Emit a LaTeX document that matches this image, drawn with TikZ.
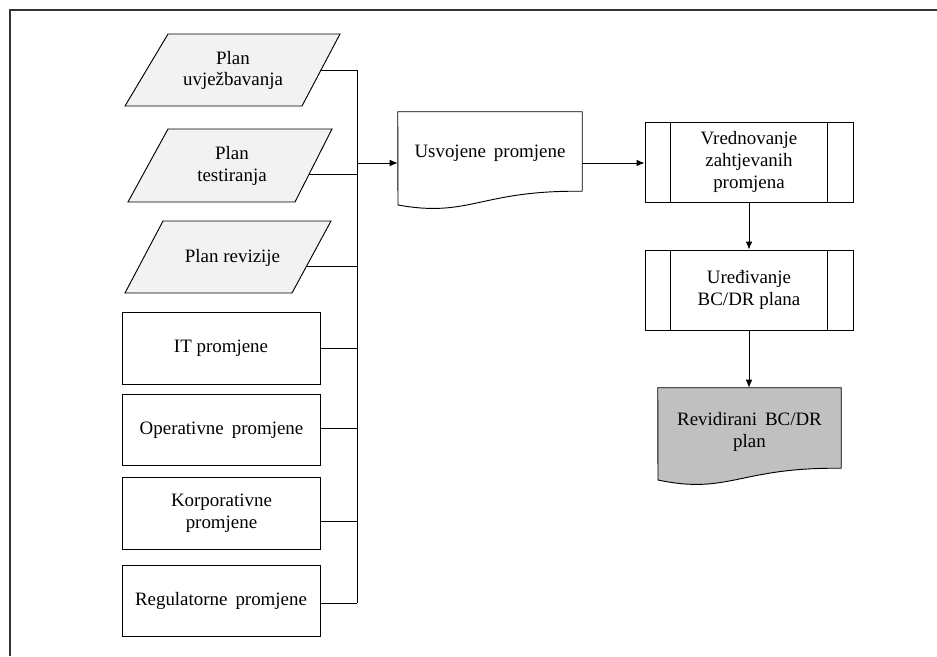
\documentclass[tikz,border=0pt]{standalone}
\usepackage{fontspec}
\setmainfont{Liberation Serif}
\usetikzlibrary{arrows.meta}
\definecolor{pfill}{RGB}{242,242,242}
\definecolor{dfill}{RGB}{192,192,192}
\newcommand\wsp{\hspace{0.42em}}
\begin{document}
\begin{tikzpicture}[x=0.75pt,y=-0.75pt,
  font=\fontsize{14.2}{16.3}\selectfont,
  shp/.style={draw, line width=0.7pt},
  txt/.style={align=center, inner sep=0pt},
  box/.style={draw, line width=0.7pt, minimum width=148.5pt, minimum height=53.5pt, align=center, inner sep=0pt},
  proc/.style={draw, line width=0.7pt, minimum width=156pt, minimum height=60pt, align=center, inner sep=0pt},
  link/.style={line width=0.7pt},
  arr/.style={line width=0.7pt, -{Latex[length=6pt,width=5pt]}}]
\useasboundingbox (0,0) rectangle (937,656);
% frame
\draw[line width=1.5pt, black!80] (10,656) -- (10,10) -- (937,10);

% parallelograms
\draw[shp, fill=pfill] (125,106) -- (168,34) -- (340,34) -- (302,106) -- cycle;
\node[txt] (p1) at (233,70.5) {Plan\\uvježbavanja};
\coordinate (p1r) at (321,70);
\draw[shp, fill=pfill] (128,202) -- (168,129) -- (332,129) -- (295,202) -- cycle;
\node[txt] (p2) at (232,166) {Plan\\testiranja};
\coordinate (p2r) at (309,174);
\draw[shp, fill=pfill] (125,293) -- (163,221) -- (331,221) -- (292,293) -- cycle;
\node[txt] (p3) at (232.5,258) {Plan revizije};
\coordinate (p3r) at (307,266);

% rectangles
\node[box] (it) at (221,348.5) {IT promjene};
\node[box] (op) at (221.5,430) {Operativne\wsp promjene};
\node[box] (ko) at (221.5,513.5) {Korporativne\\promjene};
\node[box] (re) at (221,601) {Regulatorne\wsp promjene};

% bus
\coordinate (b1) at (357,70);
\coordinate (b2) at (357,174);
\coordinate (b3) at (357,266);
\coordinate (b4) at (357,348);
\coordinate (b5) at (357,428);
\coordinate (b6) at (357,521);
\coordinate (b7) at (357,603);
\coordinate (ba) at (357,163);
\draw[link] (b1) -- (b7);
\draw[link] (p1r) -- (b1);
\draw[link] (p2r) -- (b2);
\draw[link] (p3r) -- (b3);
\draw[link] (b4 -| it.east) -- (b4);
\draw[link] (b5 -| op.east) -- (b5);
\draw[link] (b6 -| ko.east) -- (b6);
\draw[link] (b7 -| re.east) -- (b7);

% document: Usvojene promjene
\node[minimum width=138pt, minimum height=59.25pt, inner sep=0pt] (us) at (490,151.5) {};
\draw[shp] (us.south east) -- (us.north east) -- (us.north west) -- (398,205)
  .. controls (470,218) and (480,190) .. (us.south east);
\node[txt] (ust) at (490,153) {Usvojene\wsp promjene};

% processes
\node[proc] (vr) at (749,162) {Vrednovanje\\zahtjevanih\\promjena};
\draw[link] ([xshift=19.5pt]vr.north west) -- ([xshift=19.5pt]vr.south west);
\draw[link] ([xshift=-19.5pt]vr.north east) -- ([xshift=-19.5pt]vr.south east);
\node[proc] (ur) at (749,290) {Uređivanje\\BC/DR plana};
\draw[link] ([xshift=19.5pt]ur.north west) -- ([xshift=19.5pt]ur.south west);
\draw[link] ([xshift=-19.5pt]ur.north east) -- ([xshift=-19.5pt]ur.south east);

% document: Revidirani
\node[minimum width=137.25pt, minimum height=60pt, inner sep=0pt] (rv) at (749.5,428) {};
\draw[shp, fill=dfill] (rv.south east) -- (rv.north east) -- (rv.north west) -- (658,480)
  .. controls (729,495) and (739,467) .. (rv.south east);
\node[txt] (rvt) at (749.5,432) {Revidirani\wsp BC/DR\\plan};

% arrows
\draw[arr] (ba) -- (ba -| us.west);
\draw[arr] (ba -| us.east) -- (ba -| vr.west);
\draw[arr] (vr.south) -- (ur.north);
\draw[arr] (ur.south) -- (ur.south |- rv.north);
\end{tikzpicture}
\end{document}
